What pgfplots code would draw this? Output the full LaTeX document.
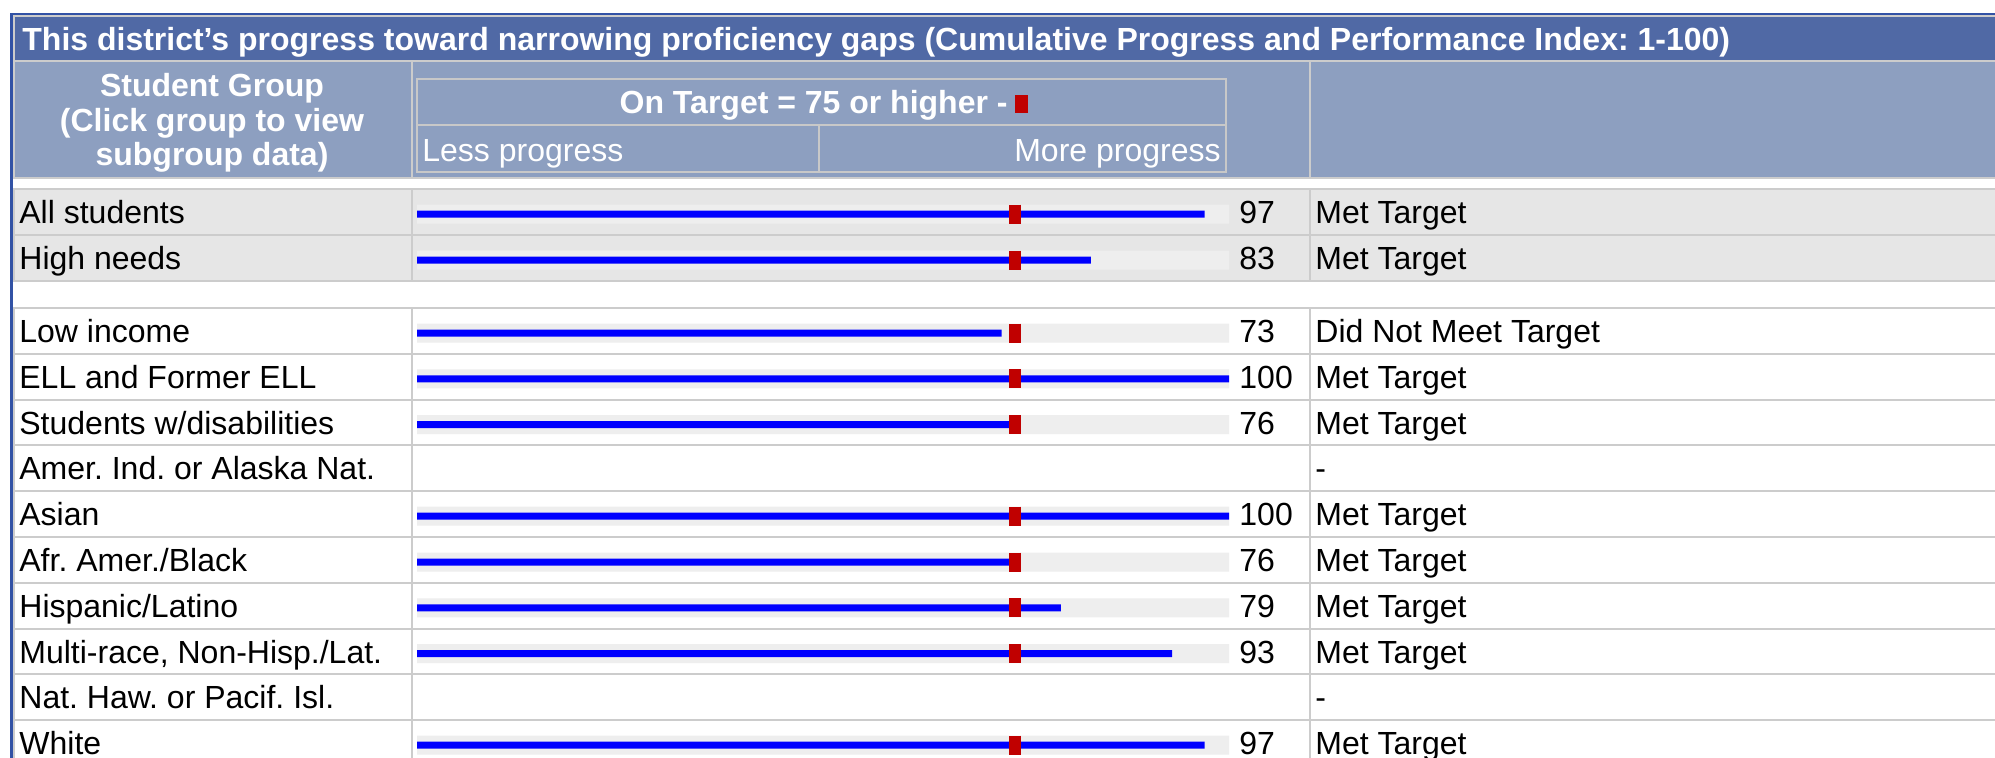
\documentclass[border=0pt]{standalone}
\usepackage{pgfplots}
\pgfplotsset{compat=1.18}
\usepackage{pgfplotstable}
\usepackage{fontspec}
\setmainfont{Liberation Sans}
\frenchspacing
\definecolor{topblue}{RGB}{50,82,165}
\definecolor{titlebg}{RGB}{80,105,165}
\definecolor{headbg}{RGB}{141,159,192}
\definecolor{rowgray}{RGB}{230,230,230}
\definecolor{track}{RGB}{238,238,238}
\definecolor{linegray}{RGB}{204,204,204}
\definecolor{boxgray}{RGB}{200,200,200}
\definecolor{mred}{RGB}{192,0,0}
\definecolor{barblue}{RGB}{0,0,255}
\newcommand\fs{\fontsize{16pt}{18pt}\selectfont}

% y = vertical position of each row (px from top), v = progress index
\pgfplotstableread{
y v
214 97
260 83
333 72
378.8 100
424.6 74
516.2 100
562 74
607.8 79.3
653.6 93
745.2 97
}\bars

\newcommand\rowtext[4]{%
  \node[anchor=base west] at (19,#1+35.5) {#2};
  \node[anchor=base west] at (1239,#1+35.5) {#3};
  \node[anchor=base west] at (1315,#1+35.5) {#4};}

\begin{document}
\begin{tikzpicture}[x=0.5pt,y=-0.5pt,font=\fs,every node/.style={inner sep=0pt}]
\useasboundingbox (0,0) rectangle (1995,758);
\clip (0,0) rectangle (1995,758);
\fill[white] (0,0) rectangle (1995,758);
% outer blue border
\fill[topblue] (10,13) rectangle (1995,15);
\fill[topblue] (10,13) rectangle (12.5,758);
% title bar and header
\fill[linegray] (12.5,15) rectangle (1995,17);
\fill[linegray] (12.5,15) rectangle (14.5,179);
\fill[titlebg] (14.5,17) rectangle (1995,60);
\fill[linegray] (12.5,60) rectangle (1995,62);
\fill[headbg] (14.5,62) rectangle (1995,177);
\fill[linegray] (12.5,177) rectangle (1995,179);
\fill[linegray] (411,62) rectangle (413,177);
\fill[linegray] (1309,62) rectangle (1311,177);
\draw[boxgray, line width=1pt] (417,79) rectangle (1226,172);
\draw[boxgray, line width=1pt] (417,125.5) -- (1226,125.5);
\draw[boxgray, line width=1pt] (819,125.5) -- (819,172);
% rows
\fill[rowgray] (14.5,190) rectangle (1995,280);
\foreach \t in {188,234,280,307,352.8,398.6,444.4,490.2,536,581.8,627.6,673.4,719.2}
  \fill[linegray] (12.5,\t) rectangle (1995,{\t+2});
\fill[linegray] (12.5,188) rectangle (14.5,282);
\fill[linegray] (12.5,307) rectangle (14.5,758);
\fill[linegray] (411,188) rectangle (413,282);
\fill[linegray] (411,307) rectangle (413,758);
\fill[linegray] (1309,188) rectangle (1311,282);
\fill[linegray] (1309,307) rectangle (1311,758);

\begin{axis}[at={(0,0)}, anchor=north west, width=997.5pt, height=379pt,
  scale only axis, hide axis, clip=false,
  xmin=-51.355, xmax=194.335, ymin=0, ymax=758, y dir=reverse]
\addplot[xbar, bar width=19, bar shift=0pt, fill=track, draw=none] table[x expr=100, y=y] {\bars};
\addplot[xbar, bar width=7, bar shift=0pt, fill=barblue, draw=none] table[x=v, y=y] {\bars};
\addplot[only marks, mark=|, mark size=4.75pt, mark options={line width=6pt, draw=mred, solid}] table[x expr=73.65, y=y] {\bars};
\end{axis}

% header texts
\node[anchor=base west, text=white, font=\fs\bfseries] at (22,51) {This district’s progress toward narrowing proficiency gaps (Cumulative Progress and Performance Index: 1-100)};
\node[anchor=base, text=white, font=\fs\bfseries] at (212,96.5) {Student Group};
\node[anchor=base, text=white, font=\fs\bfseries] at (212,131.5) {(Click group to view};
\node[anchor=base, text=white, font=\fs\bfseries] at (212,166) {subgroup data)};
\node[anchor=base east, text=white, font=\fs\bfseries] at (1008,114) {On Target = 75 or higher -};
\fill[mred] (1015,95) rectangle (1027.7,113);
\node[anchor=base west, text=white] at (422,162) {Less progress};
\node[anchor=base east, text=white] at (1221,162) {More progress};

% row texts
\rowtext{188}{All students}{97}{Met Target}
\rowtext{234}{High needs}{83}{Met Target}
\rowtext{307}{Low income}{73}{Did Not Meet Target}
\rowtext{352.8}{ELL and Former ELL}{100}{Met Target}
\rowtext{398.6}{Students w/disabilities}{76}{Met Target}
\rowtext{444.4}{Amer. Ind. or Alaska Nat.}{}{-}
\rowtext{490.2}{Asian}{100}{Met Target}
\rowtext{536}{Afr. Amer./Black}{76}{Met Target}
\rowtext{581.8}{Hispanic/Latino}{79}{Met Target}
\rowtext{627.6}{Multi-race, Non-Hisp./Lat.}{93}{Met Target}
\rowtext{673.4}{Nat. Haw. or Pacif. Isl.}{}{-}
\rowtext{719.2}{White}{97}{Met Target}
\end{tikzpicture}
\end{document}
